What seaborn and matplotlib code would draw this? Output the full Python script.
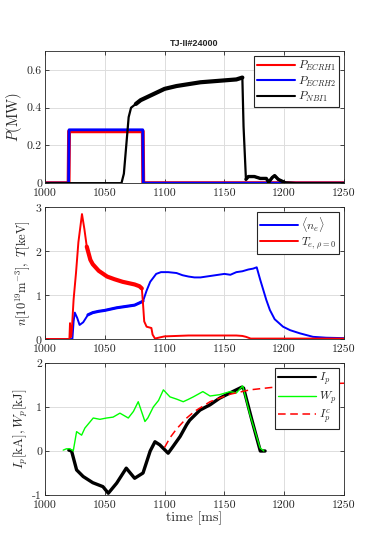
import numpy as np
import pandas as pd
import matplotlib
matplotlib.use("Agg")
import matplotlib.pyplot as plt
import seaborn as sns

# ---- datos ----
# panel 1: potencias
t_ecrh = [1000, 1019.8, 1020.2, 1081.8, 1082.2, 1250]
p_ecrh1 = [0, 0, 0.275, 0.275, 0, 0]
p_ecrh2 = [0, 0, 0.283, 0.283, 0, 0]

t_nbi = [1000, 1064, 1066, 1068, 1070, 1072, 1076, 1080, 1090, 1100, 1110, 1120, 1130,
         1140, 1150, 1160, 1165, 1166, 1168, 1170, 1175, 1180, 1185, 1187, 1190, 1192,
         1195, 1200, 1210, 1250]
p_nbi = [0, 0, 0.05, 0.2, 0.35, 0.40, 0.42, 0.44, 0.47, 0.50, 0.515, 0.525, 0.535,
         0.54, 0.545, 0.55, 0.56, 0.30, 0.02, 0.035, 0.035, 0.025, 0.025, 0.005, 0.03,
         0.04, 0.02, 0.005, 0, 0]

# panel 2: densidad y temperatura
t_ne = [1000, 1023, 1024, 1025, 1027, 1029, 1032, 1036, 1040, 1045, 1050, 1055, 1060,
        1065, 1070, 1075, 1079, 1082, 1085, 1088, 1093, 1097, 1103, 1110, 1115, 1120,
        1125, 1130, 1140, 1150, 1155, 1160, 1165, 1170, 1174, 1177, 1180, 1185, 1188,
        1192, 1199, 1205, 1213, 1224, 1235, 1250]
ne = [0, 0, 0.4, 0.6, 0.48, 0.32, 0.38, 0.55, 0.6, 0.63, 0.65, 0.68, 0.71, 0.73, 0.75,
      0.77, 0.82, 0.86, 1.1, 1.3, 1.48, 1.52, 1.52, 1.5, 1.45, 1.42, 1.4, 1.4, 1.44,
      1.48, 1.46, 1.52, 1.54, 1.58, 1.6, 1.63, 1.34, 0.89, 0.66, 0.45, 0.28, 0.2, 0.13,
      0.05, 0.03, 0.02]

t_te = [1000, 1020.5, 1021, 1021.5, 1022, 1022.5, 1024, 1026, 1028, 1031, 1033, 1035,
        1038, 1040, 1045, 1052, 1058, 1065, 1070, 1075, 1079, 1081, 1082, 1083, 1085,
        1089, 1090, 1092, 1095, 1100, 1110, 1120, 1130, 1140, 1150, 1160, 1165, 1168,
        1172, 1250]
te = [0, 0, 0.36, 0.05, 0.05, 0.2, 0.9, 1.5, 2.2, 2.84, 2.5, 2.1, 1.8, 1.7, 1.55, 1.42,
      1.36, 1.3, 1.27, 1.24, 1.2, 1.15, 0.8, 0.4, 0.28, 0.25, 0.1, 0.01, 0.03, 0.06,
      0.07, 0.08, 0.08, 0.08, 0.08, 0.08, 0.07, 0.05, 0.01, 0.01]

# panel 3: corriente y energia
t_ip = [1020, 1022.3, 1026.5, 1032, 1040, 1048.5, 1053, 1060, 1068, 1075, 1082, 1088,
        1092, 1096, 1103, 1107, 1113, 1118.5, 1121, 1129.6, 1138, 1146, 1154.7, 1164.5,
        1166, 1173, 1180, 1184]
ip = [0.02, 0, -0.43, -0.58, -0.72, -0.81, -0.96, -0.73, -0.39, -0.62, -0.5, 0, 0.21,
      0.14, -0.05, 0.1, 0.33, 0.6, 0.7, 0.93, 1.05, 1.2, 1.32, 1.45, 1.43, 0.7, 0, 0]

t_wp = [1015.3, 1018, 1021, 1023.7, 1026.5, 1030.7, 1033.4, 1040.4, 1046, 1051.6,
        1057, 1062.7, 1069.7, 1074, 1078, 1083.6, 1086, 1090.6, 1095, 1099, 1104.5,
        1110, 1115.6, 1119.6, 1124, 1132, 1138, 1146, 1154.7, 1160, 1165.3, 1171.4,
        1179.8, 1183]
wp = [0.02, 0.05, 0.05, 0, 0.44, 0.36, 0.52, 0.75, 0.72, 0.75, 0.77, 0.86, 0.75, 0.9,
      1.12, 0.67, 0.75, 1.0, 1.15, 1.39, 1.23, 1.18, 1.12, 1.17, 1.23, 1.35, 1.25, 1.28,
      1.35, 1.32, 1.48, 0.82, 0.07, 0]

t_ipc = [1100, 1104.5, 1110, 1118.5, 1125, 1138, 1154.7, 1171.4, 1188, 1210, 1230, 1250]
ipc = [0.08, 0.3, 0.5, 0.75, 0.9, 1.12, 1.29, 1.39, 1.44, 1.5, 1.53, 1.54]

xticks = [1000, 1050, 1100, 1150, 1200, 1250]

sns.set_theme(style="ticks")
plt.rcParams["font.family"] = "serif"
plt.rcParams["font.serif"] = ["cmr10", "DejaVu Serif"]
plt.rcParams["mathtext.fontset"] = "cm"
plt.rcParams["axes.formatter.use_mathtext"] = True
plt.rcParams["axes.unicode_minus"] = False

fig = plt.figure(figsize=(3.74, 5.5), dpi=100)
left, width, height = 0.120, 0.800, 0.240
ax1 = fig.add_axes([left, 0.667, width, height])
ax2 = fig.add_axes([left, 0.3836, width, height])
ax3 = fig.add_axes([left, 0.100, width, height])


def draw(ax, x, y, color, lw, label, ls="-"):
    sns.lineplot(x=x, y=y, ax=ax, color=color, lw=lw, label=label, ls=ls,
                 estimator=None, sort=False)


def noisy(ax, x, y, color, lw, t0, t1):
    # tramo ruidoso de la senal: se dibuja mas grueso
    x = np.asarray(x)
    y = np.asarray(y)
    m = (x >= t0) & (x <= t1)
    sns.lineplot(x=x[m], y=y[m], ax=ax, color=color, lw=lw, estimator=None,
                 sort=False, legend=False, solid_capstyle="round")


# panel 1
draw(ax1, t_ecrh, p_ecrh1, "#ff0000", 2.8, r"$P_{ECRH1}$")
draw(ax1, t_ecrh, p_ecrh2, "#0000ff", 2.0, r"$P_{ECRH2}$")
draw(ax1, t_nbi, p_nbi, "black", 1.6, r"$P_{NBI1}$")
noisy(ax1, t_nbi, p_nbi, "black", 3.0, 1076, 1165)
noisy(ax1, t_nbi, p_nbi, "black", 2.4, 1168, 1200)
ax1.set_ylim(0, 0.7)
ax1.set_yticks([0, 0.2, 0.4, 0.6])
ax1.set_yticklabels(["0", "0.2", "0.4", "0.6"])
ax1.set_ylabel(r"$P\mathrm{(MW)}$", fontsize=10.5, labelpad=2)
ax1.set_title("TJ-II#24000", fontsize=6.5, fontweight="bold",
              fontfamily="Liberation Sans", pad=4)

# panel 2
draw(ax2, t_ne, ne, "#0000ff", 1.4, r"$\langle n_e\rangle$")
noisy(ax2, t_ne, ne, "#0000ff", 2.2, 1036, 1082)
draw(ax2, t_te, te, "#ff0000", 1.4, r"$T_{e,\,\rho=0}$")
noisy(ax2, t_te, te, "#ff0000", 3.0, 1035, 1081)
ax2.set_ylim(0, 3)
ax2.set_yticks([0, 1, 2, 3])
ax2.set_ylabel(r"$n[10^{19}\mathrm{m}^{-3}],\ T[\mathrm{keV}]$", fontsize=9, labelpad=2)

# panel 3
draw(ax3, t_ip, ip, "black", 2.4, r"$I_p$")
draw(ax3, t_wp, wp, "#00ff00", 1.0, r"$W_p$")
draw(ax3, t_ipc, ipc, "#ff0000", 1.1, r"$I_p^c$", ls=(0, (5, 3)))
ax3.set_ylim(-1, 2)
ax3.set_yticks([-1, 0, 1, 2])
ax3.set_yticklabels(["-1", "0", "1", "2"])
ax3.set_ylabel(r"$I_p[\mathrm{kA}],W_p[\mathrm{kJ}]$", fontsize=9.5, labelpad=2)
ax3.set_xlabel(r"time [ms]", fontsize=10, labelpad=1)

for ax in (ax1, ax2, ax3):
    ax.set_xlim(1000, 1250)
    ax.set_xticks(xticks)
    ax.set_xticklabels([str(v) for v in xticks])
    ax.grid(True, color="#dddddd", lw=0.7)
    ax.set_axisbelow(True)
    ax.tick_params(direction="in", top=True, right=True, length=3, width=0.6,
                   labelsize=8.5, colors="#262626")
    ax.tick_params(axis="x", pad=4)
    ax.tick_params(axis="y", pad=2)
    for s in ax.spines.values():
        s.set_color("#262626")
        s.set_linewidth(0.6)
    if ax is not ax3:
        ax.set_xlabel("")
    leg = ax.legend(loc="upper right", fontsize=8.5, handlelength=3.2,
                    borderpad=0.25, labelspacing=0.15, handletextpad=0.3,
                    borderaxespad=0.4, fancybox=False, framealpha=1)
    leg.get_frame().set_edgecolor("#262626")
    leg.get_frame().set_linewidth(0.8)
    for h in leg.get_lines():
        h.set_linewidth(min(h.get_linewidth(), 1.5))

fig.savefig("out.png", dpi=100)
